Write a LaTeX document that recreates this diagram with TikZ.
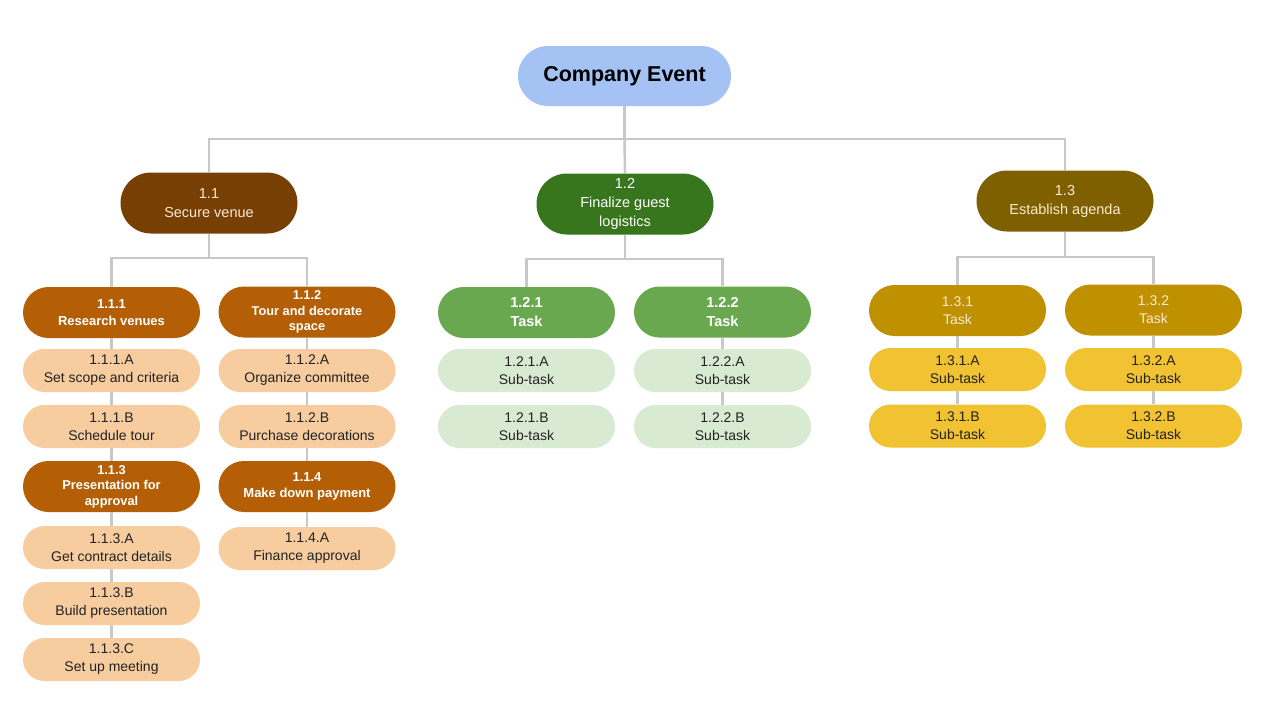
\documentclass[tikz,border=0pt]{standalone}
\usepackage{fontspec}
\setmainfont{Liberation Sans}
\usetikzlibrary{positioning}
\definecolor{ceblue}{HTML}{A4C2F4}
\definecolor{brA}{HTML}{783F04}
\definecolor{brB}{HTML}{B45F06}
\definecolor{brC}{HTML}{F7CDA0}
\definecolor{grA}{HTML}{38761D}
\definecolor{grB}{HTML}{6AA84F}
\definecolor{grC}{HTML}{D9EAD3}
\definecolor{yeA}{HTML}{7F6000}
\definecolor{yeB}{HTML}{BF9000}
\definecolor{yeC}{HTML}{F1C232}
\definecolor{lightcream}{HTML}{F7EBD3}
\definecolor{linegray}{HTML}{C8C8C8}
\definecolor{darktxt}{HTML}{222222}
\tikzset{
  pill/.style={rectangle, inner sep=0pt, align=center, font=\fontsize{14}{18}\selectfont},
  top/.style={pill, fill=ceblue, minimum width=213pt, minimum height=60pt, rounded corners=30pt, font=\fontsize{21.5}{25}\selectfont\bfseries, text=black},
  lvone/.style={pill, minimum width=177pt, minimum height=61pt, rounded corners=30.5pt, font=\fontsize{14.5}{19}\selectfont},
  lvtwo/.style={pill, minimum width=177pt, minimum height=51pt, rounded corners=25.5pt},
  boldtask/.style={font=\fontsize{13}{16.5}\selectfont\bfseries},
  boldtaskthree/.style={font=\fontsize{12.8}{15.5}\selectfont\bfseries},
  lvthree/.style={pill, minimum width=177pt, minimum height=43pt, rounded corners=21.5pt, text=darktxt},
  conn/.style={draw=linegray, line width=2.5pt},
}
\begin{document}
\begin{tikzpicture}[x=1pt,y=-1pt]
\useasboundingbox[fill=white] (0,0) rectangle (1276,710);

% top
\node[top] (ce) at (624.5,76) {Company Event};

% level 1
\node[lvone, fill=brA, text=lightcream] (n11) at (209,203) {1.1\\Secure venue};
\node[lvone, fill=grA, text=white] (n12) at (625,204) {1.2\\Finalize guest\\logistics};
\node[lvone, fill=yeA, text=lightcream] (n13) at (1065,201) {1.3\\Establish agenda};

% 1.1 subtree
\node[lvtwo, fill=brB, text=white, boldtask] (n111) at (111.5,312.5) {1.1.1\\Research venues};
\node[lvtwo, fill=brB, text=white, boldtaskthree] (n112) at (307,312) {1.1.2\\Tour and decorate\\space};
\node[lvthree, fill=brC] (n111a) at (111.5,370.5) {1.1.1.A\\Set scope and criteria};
\node[lvthree, fill=brC] (n111b) at (111.5,426.5) {1.1.1.B\\Schedule tour};
\node[lvtwo, fill=brB, text=white, boldtaskthree] (n113) at (111.5,486.5) {1.1.3\\Presentation for\\approval};
\node[lvthree, fill=brC] (n113a) at (111.5,547.5) {1.1.3.A\\Get contract details};
\node[lvthree, fill=brC] (n113b) at (111.5,603.5) {1.1.3.B\\Build presentation};
\node[lvthree, fill=brC] (n113c) at (111.5,659.5) {1.1.3.C\\Set up meeting};
\node[lvthree, fill=brC] (n112a) at (307,370.5) {1.1.2.A\\Organize committee};
\node[lvthree, fill=brC] (n112b) at (307,426.5) {1.1.2.B\\Purchase decorations};
\node[lvtwo, fill=brB, text=white, boldtask] (n114) at (307,486.5) {1.1.4\\Make down payment};
\node[lvthree, fill=brC] (n114a) at (307,548.5) {1.1.4.A\\Finance approval};

% 1.2 subtree
\node[lvtwo, fill=grB, text=white, font=\fontsize{14.5}{19}\selectfont\bfseries] (n121) at (526.5,312.5) {1.2.1\\Task};
\node[lvtwo, fill=grB, text=white, font=\fontsize{14.5}{19}\selectfont\bfseries] (n122) at (722.5,312) {1.2.2\\Task};
\node[lvthree, fill=grC] (n121a) at (526.5,370.5) {1.2.1.A\\Sub-task};
\node[lvthree, fill=grC] (n121b) at (526.5,426.5) {1.2.1.B\\Sub-task};
\node[lvthree, fill=grC] (n122a) at (722.5,370.5) {1.2.2.A\\Sub-task};
\node[lvthree, fill=grC] (n122b) at (722.5,426.5) {1.2.2.B\\Sub-task};

% 1.3 subtree
\node[lvtwo, fill=yeB, text=lightcream] (n131) at (957.5,310.5) {1.3.1\\Task};
\node[lvtwo, fill=yeB, text=lightcream] (n132) at (1153.5,310) {1.3.2\\Task};
\node[lvthree, fill=yeC] (n131a) at (957.5,369.5) {1.3.1.A\\Sub-task};
\node[lvthree, fill=yeC] (n131b) at (957.5,426) {1.3.1.B\\Sub-task};
\node[lvthree, fill=yeC] (n132a) at (1153.5,369.5) {1.3.2.A\\Sub-task};
\node[lvthree, fill=yeC] (n132b) at (1153.5,426) {1.3.2.B\\Sub-task};

% connectors
\coordinate (hub) at (624.5,139);
\coordinate (h1) at (209,258);
\coordinate (h2) at (625,259);
\coordinate (h3) at (1065,257);
\draw[conn] (ce.south) -- (hub);
\draw[conn] (hub) -- (n12.north);
\draw[conn] (n11.north) |- (hub) -| (n13.north);

\draw[conn] (n11.south) -- (h1);
\draw[conn] (n111.north) |- (h1) -| (n112.north);
\draw[conn] (n12.south) -- (h2);
\draw[conn] (n121.north) |- (h2) -| (n122.north);
\draw[conn] (n13.south) -- (h3);
\draw[conn] (n131.north) |- (h3) -| (n132.north);

\draw[conn] (n111) -- (n111a);
\draw[conn] (n111a) -- (n111b);
\draw[conn] (n111b) -- (n113);
\draw[conn] (n113) -- (n113a);
\draw[conn] (n113a) -- (n113b);
\draw[conn] (n113b) -- (n113c);
\draw[conn] (n112) -- (n112a);
\draw[conn] (n112a) -- (n112b);
\draw[conn] (n112b) -- (n114);
\draw[conn] (n114) -- (n114a);

\draw[conn] (n122) -- (n122a);
\draw[conn] (n122a) -- (n122b);

\draw[conn] (n131) -- (n131a);
\draw[conn] (n131a) -- (n131b);
\draw[conn] (n132) -- (n132a);
\draw[conn] (n132a) -- (n132b);
\end{tikzpicture}
\end{document}
